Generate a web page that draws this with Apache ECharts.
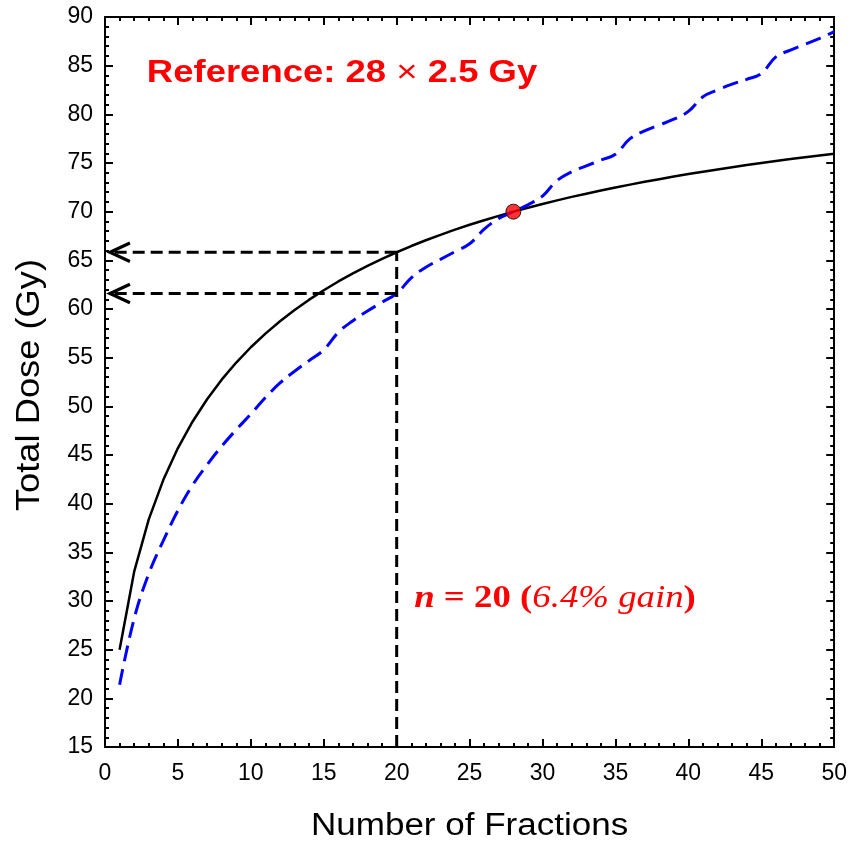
<!DOCTYPE html>
<html>
<head>
<meta charset="utf-8">
<script src="https://cdn.jsdelivr.net/npm/echarts@6/dist/echarts.min.js"></script>
<style>
html,body{margin:0;padding:0;background:#fff;}
#chart{width:850px;height:843px;}
</style>
</head>
<body>
<div id="chart"></div>
<script>
// ---- data ----
var fractions = [1,2,3,4,5,6,7,8,9,10,11,12,13,14,15,16,17,18,19,20,21,22,23,24,25,26,27,28,29,30,31,32,33,34,35,36,37,38,39,40,41,42,43,44,45,46,47,48,49,50];
// isoeffective total dose (solid black)
var isoDose = [25.00,33.01,38.39,42.45,45.71,48.42,50.73,52.74,54.50,56.07,57.47,58.74,59.90,60.96,61.93,62.83,63.66,64.43,65.16,65.83,66.47,67.06,67.62,68.15,68.65,69.12,69.57,70.00,70.41,70.79,71.16,71.52,71.85,72.18,72.49,72.78,73.07,73.34,73.61,73.86,74.10,74.34,74.57,74.79,75.00,75.21,75.40,75.60,75.78,75.96];
// blue dashed curve
var tumorDose = [21.4,28.2,32.8,36.2,39.3,41.9,44.0,45.9,47.6,49.2,50.9,52.4,53.6,54.7,55.8,57.6,58.8,59.8,60.7,61.6,63.2,64.3,65.1,65.9,66.7,68.2,69.3,70.0,70.7,71.6,73.2,74.1,74.7,75.3,75.9,77.5,78.3,78.9,79.5,80.3,81.8,82.5,83.1,83.6,84.2,85.9,86.6,87.2,87.8,88.5];
var refPoint = [28, 70.0];
var gainN = 20;
var upperDose = 65.83;
var lowerDose = 61.6;
var arrowTipX = 0.34;
var arrowLenX = 1.37;
var arrowHalfY = 0.95;
var xTicks = {min:0, max:50, interval:5};
var yTicks = {min:15, max:90, interval:5};
var xName = 'Number of Fractions';
var yName = 'Total Dose (Gy)';

var chart = echarts.init(document.getElementById('chart'), null, {renderer:'canvas'});
function pairs(xs, ys){ return xs.map(function(x,i){return [x, ys[i]];}); }

var axisCommon = {
  type:'value',
  axisLine:{show:true,onZero:false,lineStyle:{color:'#000',width:2}},
  axisTick:{show:true,inside:true,length:8,lineStyle:{color:'#000',width:2}},
  minorTick:{show:true,splitNumber:5,length:4,lineStyle:{color:'#000',width:2}},
  splitLine:{show:false}
};
function ax(extra){ return Object.assign({}, JSON.parse(JSON.stringify(axisCommon)), extra); }
var sans = 'Liberation Sans, Arial, sans-serif';
var serif = 'Liberation Serif, Times New Roman, serif';
var labelFont = {color:'#000',fontSize:23,fontFamily:sans};

var option = {
  animation:false,
  backgroundColor:'#fff',
  grid:{left:105,right:15,top:17,bottom:96,containLabel:false},
  xAxis:[
    ax({position:'bottom',min:xTicks.min,max:xTicks.max,interval:xTicks.interval,
        axisLabel:Object.assign({margin:15},labelFont)}),
    ax({position:'top',min:xTicks.min,max:xTicks.max,interval:xTicks.interval,axisLabel:{show:false}})
  ],
  yAxis:[
    ax({position:'left',min:yTicks.min,max:yTicks.max,interval:yTicks.interval,
        axisLabel:Object.assign({margin:12},labelFont)}),
    ax({position:'right',min:yTicks.min,max:yTicks.max,interval:yTicks.interval,axisLabel:{show:false}})
  ],
  series:[
    {type:'line',name:'iso',data:pairs(fractions,isoDose),showSymbol:false,smooth:false,
     lineStyle:{color:'#000',width:2.5},z:3},
    {type:'line',name:'tumor',data:pairs(fractions,tumorDose),showSymbol:false,smooth:0.4,
     lineStyle:{color:'#0000ff',width:3,type:[16,8]},z:3},
    {type:'line',name:'vline',data:[[gainN,yTicks.min],[gainN,upperDose]],showSymbol:false,
     lineStyle:{color:'#000',width:3,type:[12,6]},z:4},
    {type:'line',name:'hupper',data:[[gainN,upperDose],[arrowTipX,upperDose]],showSymbol:false,
     lineStyle:{color:'#000',width:3,type:[12,6]},z:4},
    {type:'line',name:'hlower',data:[[gainN,lowerDose],[arrowTipX,lowerDose]],showSymbol:false,
     lineStyle:{color:'#000',width:3,type:[12,6]},z:4},
    {type:'line',name:'headU',data:[[arrowTipX+arrowLenX,upperDose+arrowHalfY],[arrowTipX,upperDose],[arrowTipX+arrowLenX,upperDose-arrowHalfY]],showSymbol:false,
     lineStyle:{color:'#000',width:3.2,join:'miter'},z:4},
    {type:'line',name:'headL',data:[[arrowTipX+arrowLenX,lowerDose+arrowHalfY],[arrowTipX,lowerDose],[arrowTipX+arrowLenX,lowerDose-arrowHalfY]],showSymbol:false,
     lineStyle:{color:'#000',width:3.2,join:'miter'},z:4},
    {type:'scatter',name:'ref',data:[refPoint],symbol:'circle',symbolSize:15,
     itemStyle:{color:'#ff0000',borderColor:'#000',borderWidth:1},z:6}
  ]
};
chart.setOption(option);

var tPos = chart.convertToPixel({xAxisIndex:0,yAxisIndex:0},[2.87,84.25]);
var nPos = chart.convertToPixel({xAxisIndex:0,yAxisIndex:0},[21.2,30.2]);
var gridLeft = chart.convertToPixel({xAxisIndex:0},0);
var gridRight = chart.convertToPixel({xAxisIndex:0},50);
var gridTop = chart.convertToPixel({yAxisIndex:0},90);
var gridBottom = chart.convertToPixel({yAxisIndex:0},15);
chart.setOption({
  graphic:[
    {type:'text',x:tPos[0],y:tPos[1],scaleX:1.14,z:10,
     style:{text:'{b|Reference: 28 }{x|\u00d7}{b| 2.5 Gy}',textAlign:'left',textVerticalAlign:'middle',
       rich:{b:{fontFamily:sans,fontSize:32,fontWeight:'bold',fill:'#ff0000'},
             x:{fontFamily:sans,fontSize:32,fontWeight:'normal',fill:'#ff0000'}}}},
    {type:'text',x:nPos[0],y:nPos[1],scaleX:1.15,z:10,
     style:{text:'{bi|n}{b| = 20 (}{i|6.4% gain}{b|)}',textAlign:'left',textVerticalAlign:'middle',
       rich:{
         bi:{fontFamily:serif,fontSize:32,fontWeight:'bold',fontStyle:'italic',fill:'#ff0000'},
         b:{fontFamily:serif,fontSize:32,fontWeight:'bold',fill:'#ff0000'},
         i:{fontFamily:serif,fontSize:32,fontStyle:'italic',fill:'#ff0000'}}}},
    {type:'text',x:(gridLeft+gridRight)/2,y:826,scaleX:1.13,z:10,
     style:{text:xName,fontFamily:sans,fontSize:31,fill:'#000',textAlign:'center',textVerticalAlign:'middle'}},
    {type:'text',x:30,y:(gridTop+gridBottom)/2+3,rotation:Math.PI/2,scaleX:1.1,z:10,
     style:{text:yName,fontFamily:sans,fontSize:33,fill:'#000',textAlign:'center',textVerticalAlign:'middle'}}
  ]
});
</script>
</body>
</html>
